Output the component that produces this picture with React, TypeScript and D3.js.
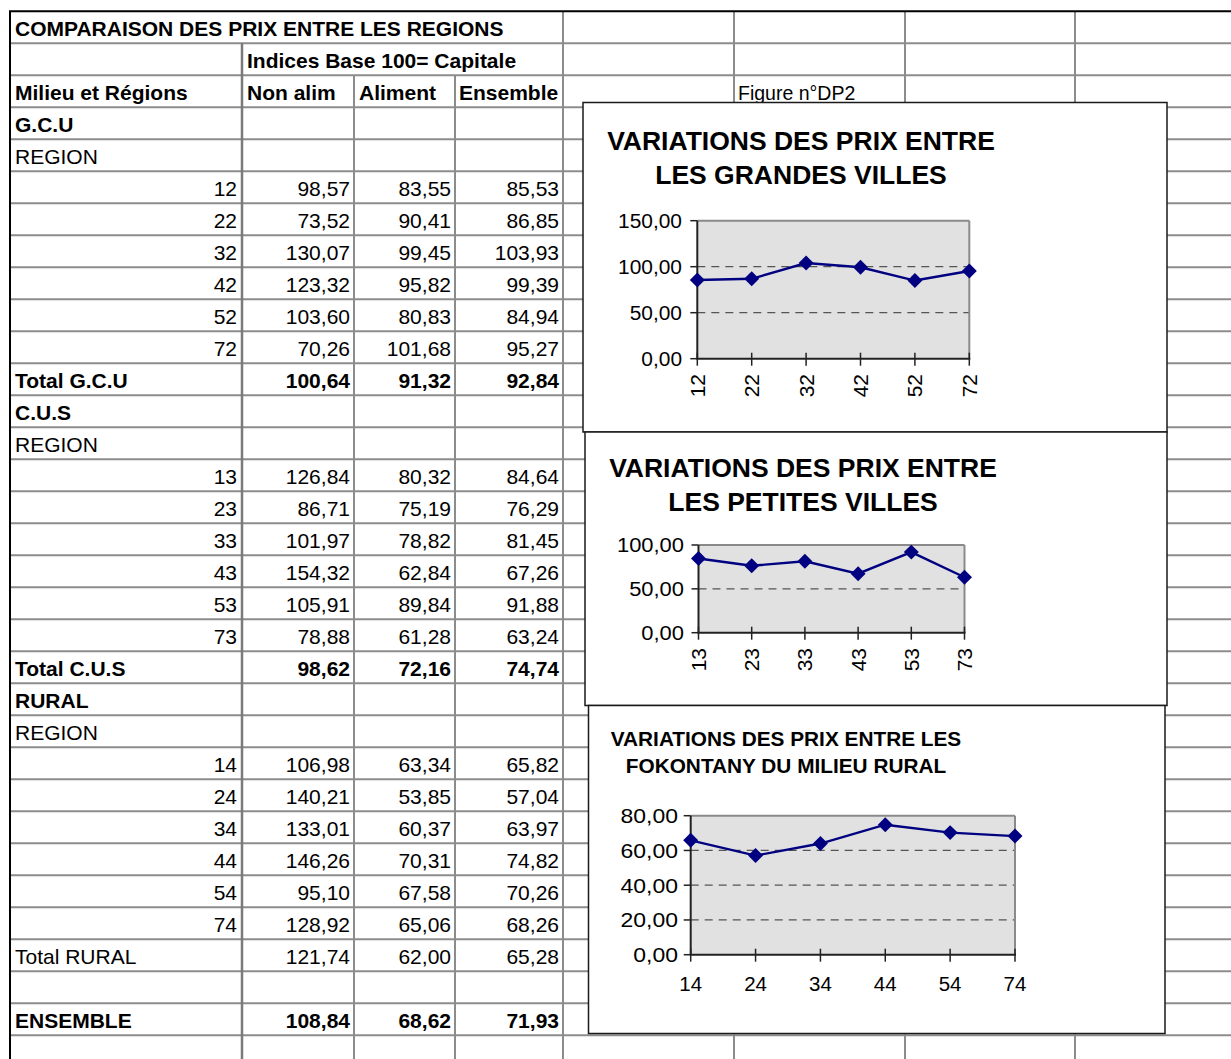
import React from "react";
import * as d3 from "d3";

// ---------- DATA ----------
const tableTitle = "COMPARAISON DES PRIX ENTRE LES REGIONS";
const subTitle = "Indices Base 100= Capitale";
const headers = ["Milieu et Régions", "Non alim", "Aliment", "Ensemble"];
const figureLabel = "Figure n°DP2";

const gcuRegions = ["12", "22", "32", "42", "52", "72"];
const gcuNonAlim = [98.57, 73.52, 130.07, 123.32, 103.6, 70.26];
const gcuAliment = [83.55, 90.41, 99.45, 95.82, 80.83, 101.68];
const gcuEnsemble = [85.53, 86.85, 103.93, 99.39, 84.94, 95.27];
const gcuTotal = [100.64, 91.32, 92.84];

const cusRegions = ["13", "23", "33", "43", "53", "73"];
const cusNonAlim = [126.84, 86.71, 101.97, 154.32, 105.91, 78.88];
const cusAliment = [80.32, 75.19, 78.82, 62.84, 89.84, 61.28];
const cusEnsemble = [84.64, 76.29, 81.45, 67.26, 91.88, 63.24];
const cusTotal = [98.62, 72.16, 74.74];

const ruralRegions = ["14", "24", "34", "44", "54", "74"];
const ruralNonAlim = [106.98, 140.21, 133.01, 146.26, 95.1, 128.92];
const ruralAliment = [63.34, 53.85, 60.37, 70.31, 67.58, 65.06];
const ruralEnsemble = [65.82, 57.04, 63.97, 74.82, 70.26, 68.26];
const ruralTotal = [121.74, 62.0, 65.28];

const ensembleTotal = [108.84, 68.62, 71.93];

const chart1Title = ["VARIATIONS DES PRIX ENTRE", "LES GRANDES VILLES"];
const chart2Title = ["VARIATIONS DES PRIX ENTRE", "LES PETITES VILLES"];
const chart3Title = ["VARIATIONS DES PRIX ENTRE LES", "FOKONTANY DU MILIEU RURAL"];
const chart1Ticks = [0, 50, 100, 150];
const chart2Ticks = [0, 50, 100];
const chart3Ticks = [0, 20, 40, 60, 80];

// ---------- LAYOUT ----------
const W = 1231;
const H = 1059;
const TOP = 11.3;
const ROW_H = 32;
const LEFT = 10;
const colLines = [242, 354, 455, 563, 734, 905, 1075];
const FONT = "'Liberation Sans', Arial, Helvetica, sans-serif";

const fr = d3.formatLocale({ decimal: ",", thousands: " ", grouping: [3], currency: ["", "€"] });
const fmt = fr.format(".2f");

type Row = {
  label: string;
  bold?: boolean;
  region?: boolean;
  vals?: number[];
  valsBold?: boolean;
};

function buildRows(): Row[] {
  const rows: Row[] = [];
  rows.push({ label: "" }); // title row
  rows.push({ label: "" }); // subtitle
  rows.push({ label: "" }); // headers
  const block = (name: string, regs: string[], a: number[], b: number[], c: number[], tot: number[], totLabel: string, totBold: boolean) => {
    rows.push({ label: name, bold: true });
    rows.push({ label: "REGION" });
    regs.forEach((r, i) => rows.push({ label: r, region: true, vals: [a[i], b[i], c[i]] }));
    rows.push({ label: totLabel, bold: totBold, vals: tot, valsBold: totBold });
  };
  block("G.C.U", gcuRegions, gcuNonAlim, gcuAliment, gcuEnsemble, gcuTotal, "Total G.C.U", true);
  block("C.U.S", cusRegions, cusNonAlim, cusAliment, cusEnsemble, cusTotal, "Total C.U.S", true);
  block("RURAL", ruralRegions, ruralNonAlim, ruralAliment, ruralEnsemble, ruralTotal, "Total RURAL", false);
  rows.push({ label: "" });
  rows.push({ label: "ENSEMBLE", bold: true, vals: ensembleTotal, valsBold: true });
  rows.push({ label: "" });
  return rows;
}

type ChartProps = {
  box: { x0: number; y0: number; x1: number; y1: number };
  plot: { x0: number; x1: number; yTop: number; yBottom: number };
  cats: string[];
  values: number[];
  ticks: number[];
  title: string[];
  titleSize: number;
  titleCx: number;
  titleBase: number[];
  rotateX: boolean;
  yLabelSize: number;
  yLabelSx: number;
  yLabelRight: number;
  xLabelSize: number;
  xLabelY: number;
};

function LineChart(p: ChartProps) {
  const x = d3.scalePoint<string>().domain(p.cats).range([p.plot.x0, p.plot.x1]).padding(0);
  const yMax = p.ticks[p.ticks.length - 1];
  const y = d3.scaleLinear().domain([0, yMax]).range([p.plot.yBottom, p.plot.yTop]);
  const line = d3
    .line<number>()
    .x((_, i) => x(p.cats[i]) as number)
    .y((d) => y(d));
  const diamond = d3.symbol().type(d3.symbolSquare).size(112)();
  const { x0, x1 } = p.plot;
  return (
    <g>
      <rect x={p.box.x0} y={p.box.y0} width={p.box.x1 - p.box.x0} height={p.box.y1 - p.box.y0} fill="#fff" stroke="#1a1a1a" strokeWidth={1.5} />
      {p.title.map((t, i) => (
        <text key={i} x={p.titleCx} y={p.titleBase[i]} textAnchor="middle" fontFamily={FONT} fontWeight="bold" fontSize={p.titleSize} fill="#000">
          {t}
        </text>
      ))}
      <rect x={x0} y={y(yMax)} width={x1 - x0} height={y(0) - y(yMax)} fill="#e1e1e1" />
      {p.ticks
        .filter((t) => t !== 0 && t !== yMax)
        .map((t) => (
          <line key={t} x1={x0} x2={x1} y1={y(t)} y2={y(t)} stroke="#555" strokeWidth={1.3} strokeDasharray="8,6" />
        ))}
      {/* top & right border */}
      <line x1={x0} x2={x1} y1={y(yMax)} y2={y(yMax)} stroke="#8a8a8a" strokeWidth={2} />
      <line x1={x1} x2={x1} y1={y(yMax)} y2={y(0)} stroke="#8a8a8a" strokeWidth={2} />
      {/* axes */}
      <line x1={x0} x2={x0} y1={y(yMax)} y2={y(0)} stroke="#222" strokeWidth={2} />
      <line x1={x0 - 1} x2={x1 + 1} y1={y(0)} y2={y(0)} stroke="#222" strokeWidth={2} />
      {p.ticks.map((t) => (
        <g key={t}>
          <line x1={x0 - 7} x2={x0} y1={y(t)} y2={y(t)} stroke="#222" strokeWidth={1.5} />
          <text
            transform={`translate(${p.yLabelRight},${y(t)}) scale(${p.yLabelSx},1)`}
            dy="0.36em"
            textAnchor="end"
            fontFamily={FONT}
            fontSize={p.yLabelSize}
            fill="#000"
          >
            {fmt(t)}
          </text>
        </g>
      ))}
      {p.cats.map((c) => (
        <g key={c}>
          <line x1={x(c)} x2={x(c)} y1={y(0) - 6} y2={y(0) + 7} stroke="#222" strokeWidth={1.5} />
          {p.rotateX ? (
            <text
              transform={`translate(${x(c)},${p.xLabelY}) rotate(-90)`}
              dy="0.36em"
              textAnchor="end"
              fontFamily={FONT}
              fontSize={p.xLabelSize}
              fill="#000"
            >
              {c}
            </text>
          ) : (
            <text x={x(c)} y={p.xLabelY} textAnchor="middle" fontFamily={FONT} fontSize={p.xLabelSize} fill="#000">
              {c}
            </text>
          )}
        </g>
      ))}
      <path d={line(p.values) || ""} fill="none" stroke="#000080" strokeWidth={2.4} />
      {p.values.map((v, i) => (
        <path key={i} d={diamond || ""} transform={`translate(${x(p.cats[i])},${y(v)}) rotate(45)`} fill="#000080" />
      ))}
    </g>
  );
}

export default function App() {
  const rows = buildRows();
  const nRows = rows.length;
  const rowTop = (i: number) => TOP + i * ROW_H;
  const bottom = H + 10;
  const base = (i: number) => rowTop(i) + 24.5;
  const valRight = [350, 451, 559];

  return (
    <svg width={W} height={H} style={{ position: "absolute", left: 0, top: 0, background: "#fff" }}>
      <rect x={0} y={0} width={W} height={H} fill="#fff" />
      {/* horizontal grid lines */}
      {d3.range(1, nRows + 1).map((i) => (
        <line key={"h" + i} x1={LEFT} x2={W} y1={rowTop(i)} y2={rowTop(i)} stroke="#8c8c8c" strokeWidth={2} />
      ))}
      {/* vertical grid lines */}
      <line x1={242} x2={242} y1={rowTop(1)} y2={bottom} stroke="#7a7a7a" strokeWidth={2.5} />
      <line x1={354} x2={354} y1={rowTop(2)} y2={bottom} stroke="#8c8c8c" strokeWidth={2} />
      <line x1={455} x2={455} y1={rowTop(2)} y2={bottom} stroke="#8c8c8c" strokeWidth={2} />
      {colLines.slice(3).map((cx) => (
        <line key={"v" + cx} x1={cx} x2={cx} y1={TOP} y2={bottom} stroke="#8c8c8c" strokeWidth={2} />
      ))}
      {/* outer border */}
      <line x1={LEFT - 1} x2={W} y1={TOP} y2={TOP} stroke="#000" strokeWidth={2} />
      <line x1={LEFT} x2={LEFT} y1={TOP} y2={bottom} stroke="#000" strokeWidth={2} />

      {/* header texts */}
      <g fontFamily={FONT} fontSize={21} fill="#000">
        <text x={15} y={base(0)} fontWeight="bold">{tableTitle}</text>
        <text x={247} y={base(1)} fontWeight="bold">{subTitle}</text>
        <text x={15} y={base(2)} fontWeight="bold">{headers[0]}</text>
        <text x={247} y={base(2)} fontWeight="bold">{headers[1]}</text>
        <text x={359} y={base(2)} fontWeight="bold">{headers[2]}</text>
        <text x={459} y={base(2)} fontWeight="bold">{headers[3]}</text>
        <text x={738} y={base(2)} fontSize={19.5}>{figureLabel}</text>
        {rows.map((r, i) => {
          if (i < 3) return null;
          return (
            <g key={i}>
              {r.label &&
                (r.region ? (
                  <text x={237} y={base(i)} textAnchor="end">{r.label}</text>
                ) : (
                  <text x={15} y={base(i)} fontWeight={r.bold ? "bold" : "normal"}>{r.label}</text>
                ))}
              {r.vals &&
                r.vals.map((v, j) => (
                  <text key={j} x={valRight[j]} y={base(i)} textAnchor="end" fontWeight={r.valsBold ? "bold" : "normal"}>
                    {fmt(v)}
                  </text>
                ))}
            </g>
          );
        })}
      </g>

      <LineChart
        box={{ x0: 583, y0: 102.5, x1: 1167, y1: 432 }}
        plot={{ x0: 697.3, x1: 969.3, yTop: 220.7, yBottom: 358.7 }}
        cats={gcuRegions}
        values={gcuEnsemble}
        ticks={chart1Ticks}
        title={chart1Title}
        titleSize={26.5}
        titleCx={801}
        titleBase={[149.5, 183.5]}
        rotateX={true}
        yLabelSize={20.5}
        yLabelSx={1.02}
        yLabelRight={682}
        xLabelSize={21}
        xLabelY={374}
      />
      <LineChart
        box={{ x0: 585, y0: 432, x1: 1167, y1: 705.5 }}
        plot={{ x0: 698.5, x1: 964.5, yTop: 545, yBottom: 632.7 }}
        cats={cusRegions}
        values={cusEnsemble}
        ticks={chart2Ticks}
        title={chart2Title}
        titleSize={26.5}
        titleCx={803}
        titleBase={[476.5, 510.5]}
        rotateX={true}
        yLabelSize={20.5}
        yLabelSx={1.07}
        yLabelRight={684}
        xLabelSize={21}
        xLabelY={648}
      />
      <LineChart
        box={{ x0: 588.5, y0: 705.5, x1: 1165, y1: 1033.5 }}
        plot={{ x0: 690.7, x1: 1015, yTop: 815.7, yBottom: 954.7 }}
        cats={ruralRegions}
        values={ruralEnsemble}
        ticks={chart3Ticks}
        title={chart3Title}
        titleSize={20.8}
        titleCx={786}
        titleBase={[746, 773]}
        rotateX={false}
        yLabelSize={20.5}
        yLabelSx={1.12}
        yLabelRight={678}
        xLabelSize={20.5}
        xLabelY={991}
      />
    </svg>
  );
}
